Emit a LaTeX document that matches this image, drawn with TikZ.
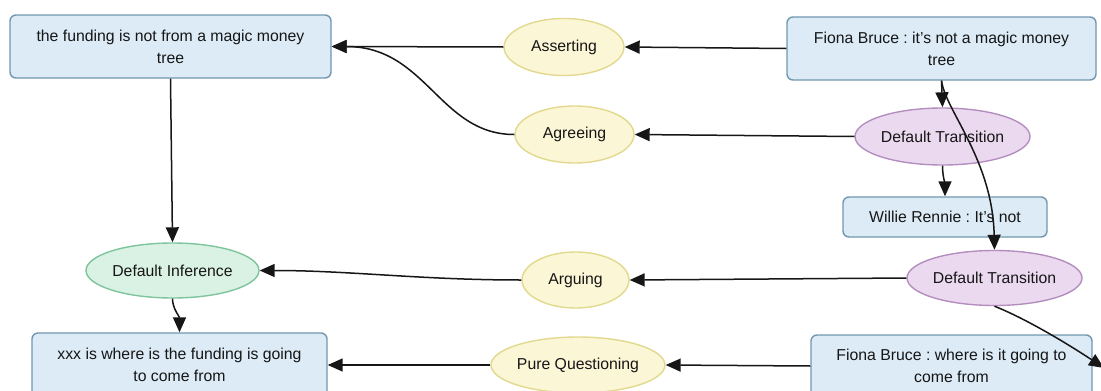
\documentclass[tikz,border=0pt]{standalone}
\usepackage{fontspec}
\setmainfont{Liberation Sans}
\usetikzlibrary{shapes.geometric,arrows.meta}

\definecolor{boxfill}{HTML}{DCEBF6}
\definecolor{boxline}{HTML}{7297AE}
\definecolor{yelfill}{HTML}{FBF6D6}
\definecolor{yelline}{HTML}{E2D98E}
\definecolor{purfill}{HTML}{EBD9EF}
\definecolor{purline}{HTML}{B58EC0}
\definecolor{grnfill}{HTML}{DAF2E4}
\definecolor{grnline}{HTML}{7EC49C}
\definecolor{ink}{HTML}{161616}

\tikzset{
  lbl/.style={font=\fontsize{15.8}{22}\selectfont\frenchspacing, text=ink, align=center, inner sep=0pt},
  locution/.style={lbl, draw=boxline, fill=boxfill, line width=1.4pt, rounded corners=6pt},
  illoc/.style={lbl, ellipse, draw=yelline, fill=yelfill, line width=1.4pt},
  trans/.style={lbl, ellipse, draw=purline, fill=purfill, line width=1.4pt},
  infer/.style={lbl, ellipse, draw=grnline, fill=grnfill, line width=1.4pt},
  link/.style={draw=ink, line width=1.5pt, -{Triangle[length=15pt,width=13pt]}}
}

\begin{document}
\begin{tikzpicture}[x=1pt,y=-1pt]
\useasboundingbox (0,0) rectangle (1101,391);
\fill[white] (0,0) rectangle (1101,391);
\clip (0,0) rectangle (1101,391);

% propositions and locutions
\node[locution, minimum width=321pt, minimum height=63pt] (propA) at (170.5,46.5)
  {the funding is not from a magic money\\tree};
\node[locution, minimum width=309pt, minimum height=63pt] (fionaA) at (941.5,48.5)
  {Fiona Bruce : it's not a magic money\\tree};
\node[locution, minimum width=204pt, minimum height=40pt] (willie) at (945,217)
  {Willie Rennie : It's not};
\node[locution, minimum width=295pt, minimum height=64pt] (propB) at (179.5,365)
  {xxx is where is the funding is going\\to come from};
\node[locution, minimum width=281pt, minimum height=62pt] (fionaB) at (951.5,366)
  {Fiona Bruce : where is it going to\\come from};

% illocutionary connections
\node[illoc, minimum width=120pt, minimum height=57pt] (assert) at (564,47) {Asserting};
\node[illoc, minimum width=119pt, minimum height=57pt] (agree) at (574.5,134.5) {Agreeing};
\node[illoc, minimum width=107pt, minimum height=56pt] (argue) at (575.5,280) {Arguing};
\node[illoc, minimum width=174pt, minimum height=56pt] (pureq) at (578,365) {Pure Questioning};

% transitions and inference
\node[trans, minimum width=175pt, minimum height=57pt] (transA) at (942.5,136.5) {Default Transition};
\node[trans, minimum width=175pt, minimum height=55pt] (transB) at (994.5,278) {Default Transition};
\node[infer, minimum width=173pt, minimum height=55pt] (infer) at (172.5,270.5) {Default Inference};

\coordinate (offright) at (1104,368);

% connectors
\draw[link] (fionaA.west) -- (assert.east);
\draw[link] (assert.west) -- (propA.east);
\draw[link] (agree.west) .. controls +(-75,0) and +(95,0) .. (propA.east);
\draw[link] (transA.west) -- (agree.east);
\draw[link] (fionaA.south) -- (transA.north);
\draw[link] (fionaA.south) .. controls +(4,30) and +(-2,-90) .. (transB.north);
\draw[link] (transA.south) .. controls +(0,10) and +(0,-12) .. (willie.north);
\draw[link] (transB.west) -- (argue.east);
\draw[link] (argue.west) .. controls +(-100,0) and +(90,0) .. (infer.east);
\draw[link] (propA.south) -- (infer.north);
\draw[link] (infer.south) .. controls +(0,10) and +(0,-16) .. (propB.north);
\draw[link] (pureq.west) -- (propB.east);
\draw[link] (fionaB.west) -- (pureq.east);
\draw[link] (transB.south) .. controls +(35,14) and +(-30,-20) .. (offright);
\end{tikzpicture}
\end{document}
